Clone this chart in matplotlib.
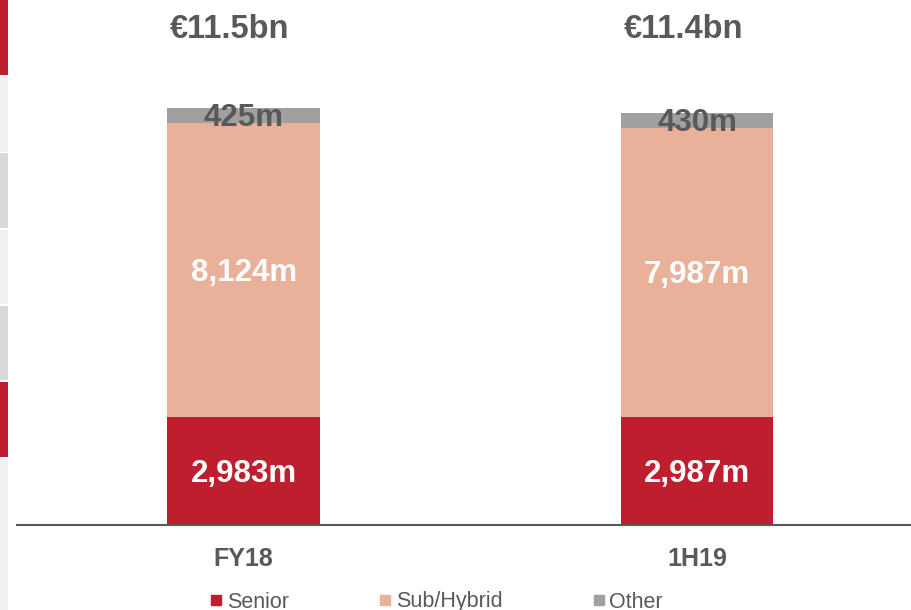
import numpy as np
import matplotlib.pyplot as plt
from matplotlib.patches import Rectangle
from matplotlib.lines import Line2D

plt.rcParams['font.family'] = ['Liberation Sans', 'DejaVu Sans']

periods = ['FY18', '1H19']
senior = np.array([2983, 2987])
sub_hybrid = np.array([8124, 7987])
other = np.array([425, 430])

series_names = ['Senior', 'Sub/Hybrid', 'Other']
series_colors = ['#be1e2d', '#e9b09a', '#a0a0a0']
label_colors = ['white', 'white', '#595959']
grey_text = '#595959'

# side stripes, as (top, bottom, colour) in pixels from the top edge
stripes = [(0, 75, '#be1e2d'), (77, 152, '#f0f0f0'), (153, 228, '#d9d9d9'),
           (230, 304, '#f0f0f0'), (306, 380, '#d9d9d9'), (382, 457, '#be1e2d'),
           (459, 610, '#f0f0f0')]

W, H = 912, 610
fig = plt.figure(figsize=(W / 100, H / 100), dpi=100)
ax = fig.add_axes([17 / W, 85 / H, 1 - 17 / W, 525 / H])

for top, bot, c in stripes:
    fig.patches.append(Rectangle((0, 1 - bot / H), 8 / W, (bot - top) / H,
                                 transform=fig.transFigure, color=c, lw=0))

x = np.arange(len(periods))
width = 0.337
bottom = np.zeros(len(periods))
for vals, name, col, lcol in zip((senior, sub_hybrid, other), series_names,
                                 series_colors, label_colors):
    ax.bar(x, vals, width, bottom=bottom, color=col, label=name, zorder=1)
    for xi, b, v in zip(x, bottom, vals):
        ax.annotate('{:,}m'.format(v), (xi, b + v / 2), xytext=(0, -2),
                    textcoords='offset points', ha='center', va='center',
                    color=lcol, fontsize=22.5, fontweight='bold', zorder=3)
    bottom += vals

for xi, tot in zip(x, bottom):
    ax.annotate('€{:.1f}bn'.format(tot / 1000), (xi, 0.949), xytext=(-10, -2),
                textcoords='offset points', xycoords=ax.get_xaxis_transform(),
                ha='center', va='center', color=grey_text, fontsize=23.5,
                fontweight='bold')

ax.set_xlim(-0.5, 1.474)
ax.set_ylim(0, 14520)
for s in ('top', 'right', 'left'):
    ax.spines[s].set_visible(False)
ax.spines['bottom'].set_color(grey_text)
ax.spines['bottom'].set_linewidth(1.5)
ax.set_yticks([])
ax.set_xticks(x)
ax.set_xticklabels(periods, fontsize=18, fontweight='bold', color=grey_text)
ax.tick_params(axis='x', length=0, pad=16)

handles = [Line2D([], [], marker='s', ls='none', color=c, markersize=7.5)
           for c in series_colors]
fig.legend(handles, series_names, loc='center left',
           bbox_to_anchor=(210 / W, 1 - 602 / H), ncol=3, frameon=False,
           fontsize=15.5, labelcolor=grey_text, handlelength=0.55,
           handletextpad=0.22, columnspacing=4.2, borderpad=0,
           borderaxespad=0)

fig.savefig('out.png', dpi=100)
